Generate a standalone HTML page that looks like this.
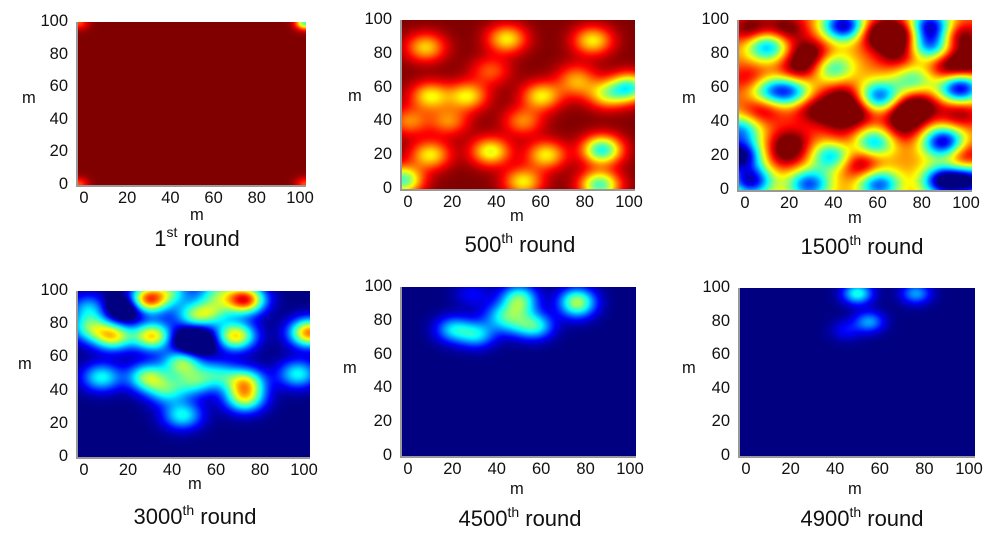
<!DOCTYPE html>
<html><head><meta charset="utf-8">
<style>
body{margin:0;background:#fff;width:1000px;height:540px;overflow:hidden;position:relative;font-family:"Liberation Sans",Arial,sans-serif;color:#111}
.t{position:absolute;font-size:16.5px;line-height:17px;white-space:nowrap}
.ttl{position:absolute;font-size:22px;white-space:nowrap;transform:translateX(-50%)}
.ttl sup{font-size:14px;vertical-align:9px;line-height:0}
canvas{position:absolute;border-left:2px solid #999;border-bottom:2px solid #999}
</style></head><body>
<script>
// ---- data: blob centres (m), amplitudes, per panel ----
const roundLabels=["1","500","1500","3000","4500","4900"];
const ticks=[0,20,40,60,80,100];
const p1X=[100,0,100,0], p1Y=[100,0,0,100], p1A=[-0.55,-0.2,-0.2,-0.2];
const p2X=[10,45,82,38,75,12,28,60,88,3,20,52,12,38,62,86,52,85,0,75,98];
const p2Y=[84,89,88,70,62,55,55,55,56,40,40,40,20,22,20,23,4,2,5,68,60];
const p2A=[-0.33,-0.36,-0.36,-0.2,-0.2,-0.36,-0.36,-0.36,-0.35,-0.25,-0.25,-0.25,-0.36,-0.4,-0.36,-0.6,-0.36,-0.55,-0.55,-0.12,-0.55];
const p3X=[5,20,30,25,60,70,68,95,90,100,5,45,50,40,10,30,72,78,95,22,20,52,97,70,45,12,22,12,60,40,58,88,95,45,82,82,0,5,30,60,88,100,40,75,0];
const p3Y=[95,95,80,70,92,92,80,90,72,75,65,55,45,45,48,48,45,50,45,28,20,15,20,35,30,85,58,58,55,20,28,28,60,97,97,85,20,5,3,3,5,5,72,65,35];
const p3A=[.3,.3,.35,.25,.35,.35,.25,.3,.3,.3,.2,.25,.3,.25,.25,.2,.35,.25,.25,.25,.2,.3,.25,.2,.15,-.5,-.5,-.4,-.55,-.45,-.45,-.7,-.7,-.7,-.65,-.5,-.75,-.65,-.55,-.55,-.75,-.65,-.35,-.3,-.45];
const p4X=[30,72,15,32,68,100,50,45,30,10,72,72,45,95,50,5,40,60,5,58,60,38,50,20];
const p4Y=[95,95,73,73,73,75,85,57,48,48,45,35,25,50,45,90,100,100,78,88,50,40,70,90];
const p4A=[.8,.85,.6,.65,.65,.75,.4,.5,.5,.38,.55,.5,.38,.38,.35,.3,.35,.35,.4,.35,.3,.35,-.45,-.35];
const p5X=[50,50,75,75,22,32,42,57,30,48];
const p5Y=[95,88,93,88,75,72,83,77,96,78];
const p5A=[.33,.28,.35,.25,.33,.33,.25,.38,.12,.2];
const p6X=[50,55,75,45];
const p6Y=[97,80,97,75];
const p6A=[.4,.28,.28,.12];
const bases=[1,1,0.75,0,0,0];
const sigmas=[3,6,6.5,6,5.5,4.5];
</script>
<script>
const layout=[
 {x:78,y:22,w:228,h:163,ylab:[22,90],xm:[190,207],tc:197,ty:226},
 {x:402,y:20,w:233,h:169,ylab:[348,88],xm:[510,208],tc:520,ty:232},
 {x:739,y:20,w:233,h:170,ylab:[682,90],xm:[848,210],tc:862,ty:234},
 {x:78,y:291,w:232,h:166,ylab:[18,356],xm:[188,476],tc:195,ty:504},
 {x:402,y:287,w:234,h:169,ylab:[343,360],xm:[510,481],tc:520,ty:506},
 {x:740,y:288,w:235,h:168,ylab:[682,360],xm:[848,481],tc:862,ty:506}];
const blobs=[[p1X,p1Y,p1A],[p2X,p2Y,p2A],[p3X,p3Y,p3A],[p4X,p4Y,p4A],[p5X,p5Y,p5A],[p6X,p6Y,p6A]];
function cl(v){return Math.max(0,Math.min(1,v));}
function jet(v){return [cl(1.5-Math.abs(4*v-3)),cl(1.5-Math.abs(4*v-2)),cl(1.5-Math.abs(4*v-1))];}
function add(tag,cls,txt,x,y,name){
 const e=document.createElement(tag);
 if(cls)e.className=cls;
 e.innerHTML=txt;e.style.left=x+'px';e.style.top=y+'px';
 
 
 document.body.appendChild(e);return e;}
layout.forEach((L,i)=>{
 const c=document.createElement('canvas');
 c.width=L.w;c.height=L.h;
 c.style.left=(L.x-2)+'px';c.style.top=L.y+'px';
 
 
 document.body.appendChild(c);
 const ctx=c.getContext('2d');const img=ctx.createImageData(L.w,L.h);
 const [bx,by,ba]=blobs[i];const s=sigmas[i];
 for(let py=0;py<L.h;py++)for(let px=0;px<L.w;px++){
  const mx=px/(L.w-1)*100,my=100-py/(L.h-1)*100;
  let v=bases[i];
  for(let k=0;k<bx.length;k++){const dx=mx-bx[k],dy=my-by[k];v+=ba[k]*Math.exp(-(dx*dx+dy*dy)/(2*s*s));}
  const col=jet(cl(v));const o=(py*L.w+px)*4;
  img.data[o]=col[0]*255;img.data[o+1]=col[1]*255;img.data[o+2]=col[2]*255;img.data[o+3]=255;}
 ctx.putImageData(img,0,0);
 const x0=L.x+6,x1=L.x+L.w-6;
 ticks.forEach(t=>{
  const xx=x0+(x1-x0)*t/100;
  const e=add('div','t',String(t),xx,L.y+L.h+5,'x-tick-label');
  e.style.transform='translateX(-50%)';
  const yy=L.y+L.h-L.h*t/100;
  const f=add('div','t',String(t),L.x-10,yy-9,'y-tick-label');
  f.style.transform='translateX(-100%)';
 });
 add('div','t','m',L.ylab[0],L.ylab[1],'y-axis-title');
 add('div','t','m',L.xm[0],L.xm[1],'x-axis-title');
 const suf=i==0?'st':'th';
 add('div','ttl',roundLabels[i]+'<sup>'+suf+'</sup> round',L.tc,L.ty,'panel-title');
});
</script>
</body></html>
